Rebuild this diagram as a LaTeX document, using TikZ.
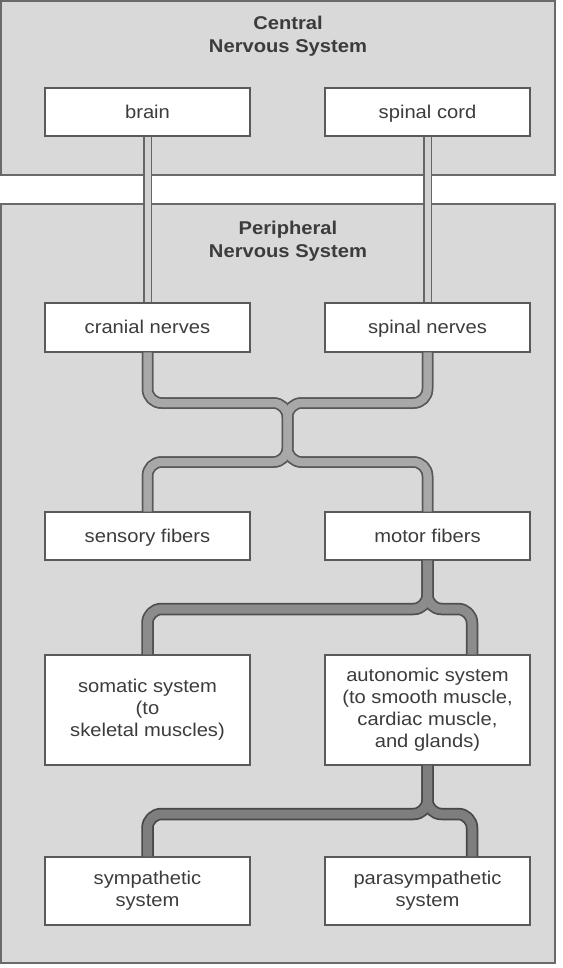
\documentclass[tikz,border=0pt]{standalone}
\usepackage{fontspec}
\setmainfont{Liberation Sans}[FakeStretch=1.09]
\usetikzlibrary{calc}
\newcommand\boxstrut{\rule[-4.5pt]{0pt}{21.8pt}}
\definecolor{panelfill}{HTML}{D9D9D9}
\definecolor{paneledge}{HTML}{6A6A6A}
\definecolor{boxedge}{HTML}{5A5A5A}
\definecolor{txt}{HTML}{3C3C3C}
\definecolor{tAe}{HTML}{666666}
\definecolor{tAf}{HTML}{D2D2D2}
\definecolor{tBe}{HTML}{585858}
\definecolor{tBf}{HTML}{A8A8A8}
\definecolor{tCe}{HTML}{505050}
\definecolor{tCf}{HTML}{8C8C8C}
\definecolor{tDe}{HTML}{484848}
\definecolor{tDf}{HTML}{7E7E7E}
\tikzset{
  panel/.style={fill=panelfill, draw=paneledge, line width=1.4pt},
  titletext/.style={align=center, text=txt, font=\fontsize{18.5}{22.5}\selectfont\bfseries},
  nbox/.style={draw=boxedge, fill=white, line width=1.4pt, minimum width=205pt,
    inner sep=0pt, align=center, text=txt, font=\fontsize{18.5}{21.8}\selectfont,
    execute at begin node=\boxstrut, execute at end node=\boxstrut},
  tube/.style 2 args={line width=#1pt, draw=#2, rounded corners=14pt, line cap=butt, line join=round},
}
\begin{document}
\begin{tikzpicture}[x=1pt,y=-1pt]
\useasboundingbox (0,0) rectangle (562,968);
\fill[white] (0,0) rectangle (562,968);
\draw[panel] (1,1) rectangle (555,175);
\draw[panel] (1,204) rectangle (555,963);

\node[titletext] (cnsT) at (288,36) {Central\\Nervous System};
\node[titletext] (pnsT) at (288,241) {Peripheral\\Nervous System};

\node[nbox, minimum height=48pt] (brain) at (147.5,112) {brain};
\node[nbox, minimum height=48pt] (cord) at (427.5,112) {spinal cord};
\node[nbox, minimum height=49pt] (cran) at (147.5,327.5) {cranial nerves};
\node[nbox, minimum height=49pt] (spnv) at (427.5,327.5) {spinal nerves};
\node[nbox, minimum height=48pt] (sens) at (147.5,536) {sensory fibers};
\node[nbox, minimum height=48pt] (motor) at (427.5,536) {motor fibers};
\node[nbox, minimum height=110pt] (soma) at (147.5,710) {somatic system\\(to\\skeletal muscles)};
\node[nbox, minimum height=110pt] (auto) at (427.5,710) {autonomic system\\(to smooth muscle,\\cardiac muscle,\\and glands)};
\node[nbox, minimum height=68pt] (symp) at (147.5,891) {sympathetic\\system};
\node[nbox, minimum height=68pt] (para) at (427.5,891) {parasympathetic\\system};

\coordinate (jA) at (287.5,403);
\coordinate (jB) at (287.5,462);
\coordinate (jC) at (427.5,609);
\coordinate (jD) at (427.5,814);
\coordinate (autoR) at ($(auto.north)+(44.5,0)$);
\coordinate (paraR) at ($(para.north)+(44.5,0)$);

\foreach \w/\c in {9/tAe,6/tAf}{
  \draw[tube={\w}{\c}] (brain.south) -- (cran.north);
  \draw[tube={\w}{\c}] (cord.south) -- (spnv.north);
}
\foreach \w/\c in {11.5/tBe,8/tBf}{
  \draw[tube={\w}{\c}] (cran.south) |- (jA) -- (jB) -| (sens.north);
  \draw[tube={\w}{\c}] (cran.south) |- (jA) -- (jB) -| (motor.north);
  \draw[tube={\w}{\c}] (spnv.south) |- (jA) -- (jB) -| (sens.north);
  \draw[tube={\w}{\c}] (spnv.south) |- (jA) -- (jB) -| (motor.north);
}
\foreach \w/\c in {12.5/tCe,9/tCf}{
  \draw[tube={\w}{\c}] (motor.south) -- (jC) -| (soma.north);
  \draw[tube={\w}{\c}] (motor.south) -- (jC) -| (autoR);
}
\foreach \w/\c in {12.5/tDe,9/tDf}{
  \draw[tube={\w}{\c}] (auto.south) -- (jD) -| (symp.north);
  \draw[tube={\w}{\c}] (auto.south) -- (jD) -| (paraR);
}
\end{tikzpicture}
\end{document}
